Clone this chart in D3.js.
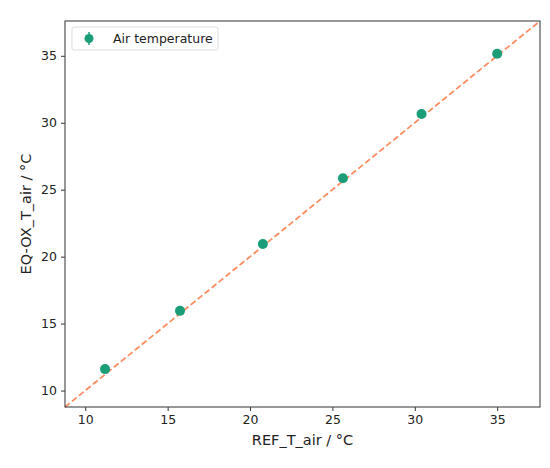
<!DOCTYPE html>
<html>
<head>
<meta charset="utf-8">
<script src="https://cdn.jsdelivr.net/npm/d3@7"></script>
<style>
  body { margin: 0; background: #fff; }
  text { font-family: "DejaVu Sans", sans-serif; fill: #222; }
</style>
</head>
<body>
<div id="chart"></div>
<script>
// reference vs. measured air temperature
const refTemp = [11.2, 15.75, 20.78, 25.64, 30.41, 35.0];
const eqoxTemp = [11.6, 15.95, 20.95, 25.85, 30.65, 35.15];
const eqoxErr = [0.1, 0.1, 0.1, 0.1, 0.1, 0.25];
const tickValues = [10, 15, 20, 25, 30, 35];
const axisRange = [8.77, 37.6];

const width = 550, height = 468;
const margin = {top: 21, right: 10, bottom: 61, left: 65};

const svg = d3.select("#chart").append("svg")
    .attr("width", width)
    .attr("height", height);

const x = d3.scaleLinear().domain(axisRange).range([margin.left, width - margin.right]);
const y = d3.scaleLinear().domain(axisRange).range([height - margin.bottom, margin.top]);

// 1:1 line
svg.append("line")
    .attr("x1", x(axisRange[0])).attr("y1", y(axisRange[0]))
    .attr("x2", x(axisRange[1])).attr("y2", y(axisRange[1]))
    .attr("stroke", "#fc8d62")
    .attr("stroke-width", 1.8)
    .attr("stroke-dasharray", "6,3");

const pts = refTemp.map((v, i) => ({x: v, y: eqoxTemp[i], e: eqoxErr[i]}));

svg.selectAll(".err")
    .data(pts)
    .enter().append("line")
    .attr("class", "err")
    .attr("x1", d => x(d.x)).attr("x2", d => x(d.x))
    .attr("y1", d => y(d.y - d.e)).attr("y2", d => y(d.y + d.e))
    .attr("stroke", "#1b9e77")
    .attr("stroke-width", 1.5);

svg.selectAll(".pt")
    .data(pts)
    .enter().append("circle")
    .attr("class", "pt")
    .attr("cx", d => x(d.x))
    .attr("cy", d => y(d.y))
    .attr("r", 5)
    .attr("fill", "#1b9e77");

// axes
const xAxis = svg.append("g")
    .attr("transform", `translate(0,${height - margin.bottom})`)
    .call(d3.axisBottom(x).tickValues(tickValues).tickSize(4).tickPadding(4));
const yAxis = svg.append("g")
    .attr("transform", `translate(${margin.left},0)`)
    .call(d3.axisLeft(y).tickValues(tickValues).tickSize(4).tickPadding(4));
[xAxis, yAxis].forEach(g => {
    g.select(".domain").remove();
    g.selectAll("line").attr("stroke", "#333");
    g.selectAll("text").attr("font-size", 12.5).attr("fill", "#222")
        .attr("font-family", "DejaVu Sans, sans-serif");
});

// frame
svg.append("rect")
    .attr("x", margin.left).attr("y", margin.top)
    .attr("width", width - margin.left - margin.right)
    .attr("height", height - margin.top - margin.bottom)
    .attr("fill", "none")
    .attr("stroke", "#444")
    .attr("stroke-width", 1.1);

// labels
svg.append("text")
    .attr("x", (margin.left + width - margin.right) / 2)
    .attr("y", 445)
    .attr("text-anchor", "middle")
    .attr("font-size", 14.5)
    .text("REF_T_air / °C");

svg.append("text")
    .attr("transform", `translate(27,${(margin.top + height - margin.bottom) / 2}) rotate(-90)`)
    .attr("text-anchor", "middle")
    .attr("dominant-baseline", "middle")
    .attr("font-size", 14.5)
    .text("EQ-OX_T_air / °C");

// legend
const leg = svg.append("g");
leg.append("rect")
    .attr("x", 72).attr("y", 27)
    .attr("width", 146).attr("height", 23)
    .attr("rx", 2)
    .attr("fill", "#fff")
    .attr("stroke", "#ddd");
leg.append("line")
    .attr("x1", 89).attr("x2", 89).attr("y1", 32).attr("y2", 45)
    .attr("stroke", "#1b9e77").attr("stroke-width", 1.5);
leg.append("circle")
    .attr("cx", 89).attr("cy", 38.5).attr("r", 4.5)
    .attr("fill", "#1b9e77");
leg.append("text")
    .attr("x", 113).attr("y", 43)
    .attr("font-size", 12.5)
    .text("Air temperature");
</script>
</body>
</html>
